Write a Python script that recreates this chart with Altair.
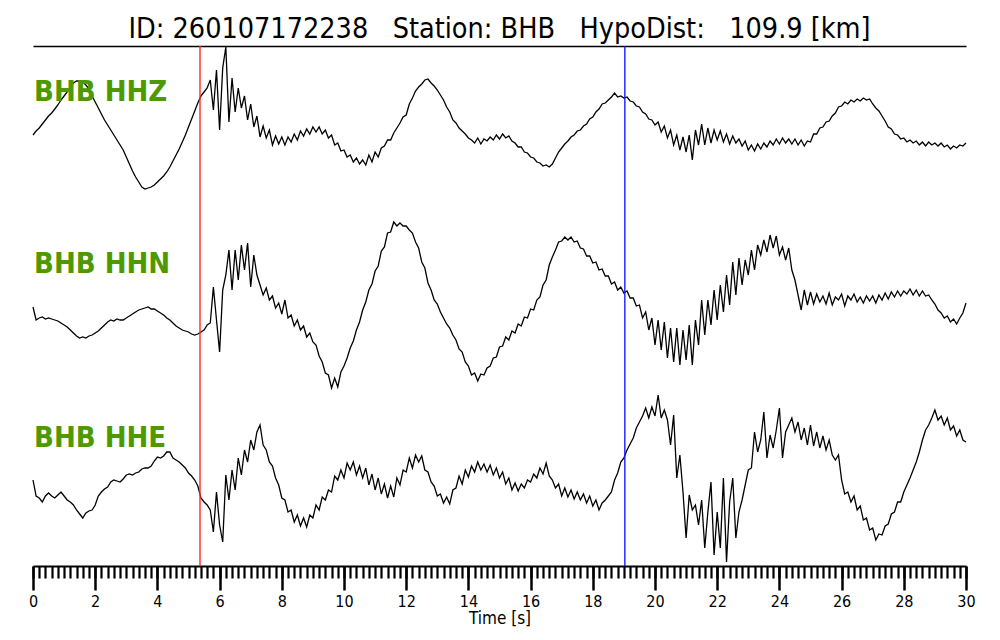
import altair as alt
import pandas as pd

# sampling grid (s)
T = [round(i * 0.1, 1) for i in range(301)]

HHZ = [-15, -11, -8, -4, 0, 4, 7, 11, 15, 20,
       24, 28, 33, 37, 39, 39, 38, 35, 31, 24,
       18, 12, 6, 0, -5, -10, -15, -20, -25, -30,
       -37, -44, -51, -57, -62, -67, -69, -68, -67, -65,
       -62, -59, -56, -52, -47, -41, -35, -29, -22, -15,
       -7, 1, 9, 17, 24, 28, 32, 40, 10, 50,
       -10, 52, 73, -2, 42, 8, 32, 12, 24, 0,
       16, -7, 4, -17, -6, -18, -10, -25, -16, -24,
       -17, -25, -17, -22, -14, -20, -11, -16, -9, -14,
       -7, -12, -7, -14, -10, -18, -15, -25, -23, -31,
       -30, -37, -35, -42, -38, -44, -40, -45, -35, -42,
       -32, -37, -28, -26, -20, -20, -13, -8, -3, 3,
       5, 16, 22, 29, 33, 36, 40, 41, 37, 34,
       30, 25, 20, 13, 8, 0, -3, -8, -11, -14,
       -18, -20, -23, -18, -24, -19, -21, -17, -20, -15,
       -19, -14, -18, -16, -21, -23, -27, -27, -32, -33,
       -37, -38, -42, -43, -46, -45, -47, -44, -38, -32,
       -28, -24, -21, -17, -15, -11, -10, -6, -4, 1,
       3, 8, 11, 16, 17, 20, 23, 27, 23, 24,
       22, 23, 19, 18, 14, 13, 8, 6, 1, 0,
       -5, -2, -12, -6, -18, -10, -25, -15, -30, -17,
       -32, -15, -40, -10, -25, -4, -25, -8, -23, -10,
       -20, -11, -22, -14, -24, -16, -23, -19, -26, -21,
       -30, -25, -31, -24, -29, -23, -27, -21, -25, -19,
       -24, -18, -23, -19, -24, -19, -25, -20, -26, -21,
       -22, -14, -14, -8, -7, -2, -1, 4, 7, 13,
       14, 18, 16, 20, 18, 21, 19, 22, 20, 21,
       16, 12, 9, 4, -1, -7, -9, -14, -15, -19,
       -18, -22, -20, -23, -21, -25, -22, -26, -22, -25,
       -23, -26, -23, -27, -25, -29, -26, -28, -25, -26,
       -23]

HHN = [-2, -15, -13, -12, -14, -13, -14, -15, -16, -18,
       -20, -22, -25, -28, -31, -33, -32, -33, -31, -30,
       -28, -26, -23, -20, -17, -15, -16, -14, -15, -15,
       -13, -11, -9, -7, -5, -4, -3, -2, -4, -4,
       -6, -8, -10, -13, -15, -18, -21, -23, -25, -26,
       -27, -29, -30, -29, -27, -25, -20, -18, 18, -15,
       -47, 15, 30, 55, 15, 55, 25, 60, 35, 62,
       18, 50, 30, 20, 10, 17, 5, 9, -3, 2,
       -9, 5, -13, -10, -21, -15, -25, -21, -32, -28,
       -37, -40, -51, -57, -68, -70, -83, -73, -82, -67,
       -61, -53, -43, -36, -25, -17, -5, 3, 15, 21,
       34, 39, 54, 58, 72, 73, 83, 79, 82, 79,
       79, 75, 72, 63, 57, 43, 37, 22, 15, 5,
       1, -7, -13, -19, -23, -30, -35, -44, -47, -57,
       -61, -70, -68, -76, -69, -70, -63, -61, -53, -52,
       -42, -41, -32, -35, -26, -28, -19, -21, -12, -13,
       -4, -5, 5, 8, 20, 25, 40, 48, 55, 63,
       64, 68, 65, 68, 63, 64, 57, 56, 49, 49,
       42, 43, 35, 36, 29, 29, 21, 23, 15, 18,
       12, 14, 7, 7, -1, 0, -13, -7, -25, -13,
       -40, -15, -45, -17, -53, -23, -57, -23, -60, -25,
       -55, -20, -60, -15, -40, 5, -30, 5, -20, 15,
       -15, 20, -7, 30, 0, 43, 10, 47, 20, 45,
       30, 55, 35, 60, 50, 65, 53, 70, 57, 69,
       50, 58, 45, 57, 35, 25, 10, -5, 15, 0,
       13, 1, 11, 3, 9, 1, 12, 0, 8, 5,
       11, -1, 9, 5, 11, 3, 8, 2, 9, 4,
       9, 2, 10, 5, 12, 6, 13, 8, 14, 9,
       14, 11, 16, 10, 15, 9, 14, 9, 10, 5,
       1, -5, -8, -13, -11, -17, -14, -19, -13, -8,
       2]

HHE = [0, -16, -18, -22, -16, -13, -16, -18, -15, -12,
       -16, -20, -22, -25, -30, -34, -38, -33, -31, -30,
       -25, -16, -12, -9, -7, -2, 0, -1, -2, 1,
       5, 6, 5, 7, 8, 11, 12, 12, 14, 19,
       23, 22, 24, 28, 28, 22, 20, 18, 15, 12,
       7, 4, 0, -6, -18, -22, -25, -30, -52, -12,
       -45, -62, 5, -20, 10, -10, 22, 5, 30, 18,
       40, 30, 48, 55, 35, 30, 18, 14, 2, -5,
       -18, -20, -32, -30, -42, -35, -46, -38, -47, -35,
       -38, -25, -30, -17, -20, -10, -12, 4, 0, 10,
       2, 17, 10, 18, 5, 14, 2, 12, -5, 6,
       -10, 2, -14, -4, -18, -6, -17, 2, -5, 10,
       8, 22, 12, 25, 18, 24, 10, 8, -2, -6,
       -16, -14, -23, -17, -24, -10, -8, 4, -4, 10,
       3, 14, 8, 18, 10, 16, 8, 15, 5, 12,
       2, 8, -4, 2, -10, -3, -11, -4, -8, 0,
       -2, 6, 2, 12, 6, 17, 4, 0, -8, -4,
       -16, -8, -17, -10, -19, -12, -20, -14, -23, -16,
       -26, -20, -30, -23, -20, -16, -12, 0, 7, 18,
       22, 30, 36, 42, 52, 58, 64, 72, 62, 73,
       64, 85, 62, 70, 60, 35, 65, 2, 25, -12,
       -58, -15, -30, -25, -45, -20, -68, -32, -2, -75,
       -32, -68, 2, -82, -22, 2, -58, -32, -20, -5,
       10, 12, 48, 28, 40, 68, 22, 45, 32, 50,
       72, 22, 48, 55, 62, 48, 58, 40, 52, 35,
       55, 34, 48, 32, 44, 30, 40, 25, 20, 25,
       0, -14, -12, -22, -16, -30, -26, -40, -38, -50,
       -48, -60, -54, -55, -46, -44, -34, -32, -22, -22,
       -12, -5, 2, 10, 18, 28, 40, 50, 55, 62,
       70, 60, 64, 55, 62, 50, 54, 44, 50, 40,
       38]

CHANNELS = ["HHZ", "HHN", "HHE"]
SERIES = [HHZ, HHN, HHE]
TRACE_OFFSET = [446, 261, 86]
LABEL_SHIFT = [19, 32, 33]
LABELS = ["BHB HHZ", "BHB HHN", "BHB HHE"]

PICK_NAMES = ["P", "S"]
PICK_TIMES = [5.37, 19.03]
PICK_COLORS = ["#ff2a2a", "#1a1aff"]

NB = "\u00a0"
TITLE = ("ID: 260107172238" + NB * 3 + "Station: BHB" + NB * 3
         + "HypoDist:" + NB * 3 + "109.9 [km]")
FONT = "DejaVu Sans Condensed, DejaVu Sans"

rows = []
for ch, vals, off in zip(CHANNELS, SERIES, TRACE_OFFSET):
    for t, v in zip(T, vals):
        rows.append({"t": t, "v": off + v, "trace": ch})
df = pd.DataFrame(rows)

lab_df = pd.DataFrame({"t": [0.0] * 3,
                       "v": [o + s for o, s in zip(TRACE_OFFSET, LABEL_SHIFT)],
                       "label": LABELS})
pick_df = pd.DataFrame({"t": PICK_TIMES, "name": PICK_NAMES})

xscale = alt.Scale(domain=[0, 30], nice=False, zero=False)
yscale = alt.Scale(domain=[0, 520], nice=False, zero=False)

traces = alt.Chart(df).mark_line(color="black", strokeWidth=1.3).encode(
    x=alt.X("t:Q", scale=xscale,
            axis=alt.Axis(orient="bottom", values=list(range(0, 31, 2)), tickSize=24,
                          tickWidth=2.5, tickColor="black", domainColor="black",
                          domainWidth=2, labelFontSize=16, labelFont=FONT,
                          labelColor="black", labelPadding=3, labelFlush=False,
                          title="Time [s]", titleFont=FONT, titleFontSize=17,
                          titleFontWeight="normal", titleColor="black", titlePadding=1,
                          grid=False)),
    y=alt.Y("v:Q", scale=yscale, axis=None),
    detail="trace:N",
)

picks = alt.Chart(pick_df).mark_rule(strokeWidth=1.4).encode(
    x=alt.X("t:Q", scale=xscale,
            axis=alt.Axis(orient="bottom", values=[round(i * 0.2, 1) for i in range(151)],
                          tickSize=12, tickWidth=2.2, tickColor="black", labels=False,
                          domain=False, title=None, grid=False)),
    color=alt.Color("name:N", scale=alt.Scale(domain=PICK_NAMES, range=PICK_COLORS),
                    legend=None),
)

labels = alt.Chart(lab_df).mark_text(align="left", baseline="alphabetic", dx=1,
                                     font=FONT, fontSize=29, fontWeight="bold",
                                     color="#4c9a00").encode(
    x=alt.X("t:Q", scale=xscale,
            axis=alt.Axis(orient="top", ticks=False, labels=False, domain=True,
                          domainColor="black", domainWidth=1.5, title=None, grid=False)),
    y=alt.Y("v:Q", scale=yscale, axis=None),
    text="label:N",
)

chart = alt.layer(traces, picks, labels).resolve_axis(x="independent").properties(
    width=933, height=520,
    title=alt.TitleParams(TITLE, font=FONT, fontSize=28.5, fontWeight="normal",
                          color="black", anchor="middle", baseline="alphabetic",
                          offset=9, dy=31),
    autosize=alt.AutoSizeParams(type="none"),
    padding={"left": 25, "top": 38, "right": 26, "bottom": 70},
).configure_view(stroke=None)

chart.save("out.html", embed_options={"renderer": "svg", "actions": False})
